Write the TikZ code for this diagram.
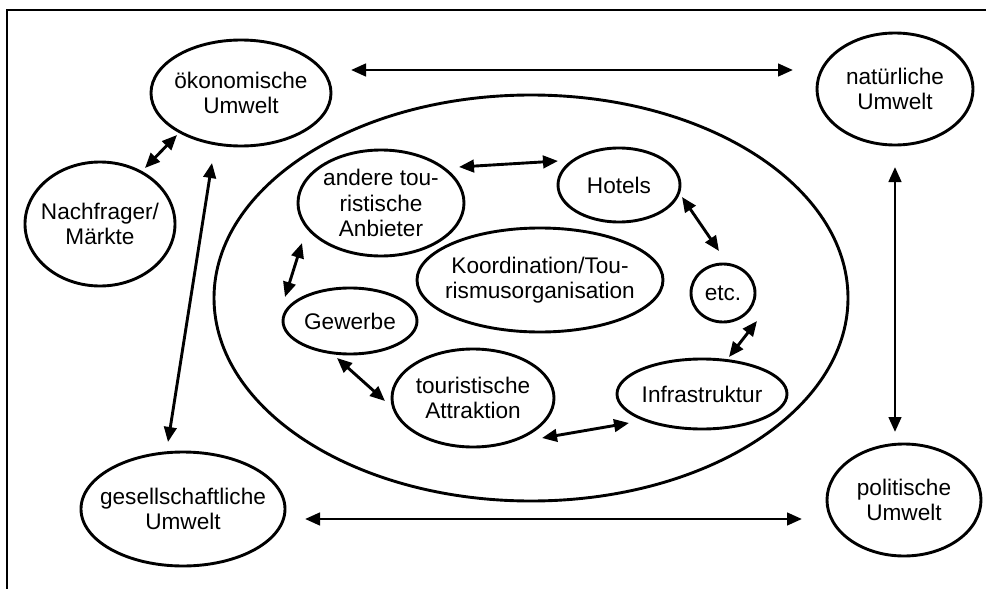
\documentclass[tikz,border=0pt]{standalone}
\usepackage{fontspec}
\setmainfont{Liberation Sans}
\usetikzlibrary{arrows.meta,shapes.geometric}
\begin{document}
\begin{tikzpicture}[x=1pt,y=-1pt,
  ell/.style={ellipse, draw, line width=2.9pt, inner sep=0pt, outer sep=0pt},
  lbl/.style={align=center, inner sep=0pt, font=\fontsize{22.6}{25.5}\selectfont},
  link/.style={line width=2.9pt,
    {Triangle[length=15pt,width=12.5pt]}-{Triangle[length=15pt,width=12.5pt]}},
  frameline/.style={line width=1.3pt}]
\useasboundingbox (0,0) rectangle (986,589);

% frame on top and left
\draw[frameline] (7,589) -- (7,10) -- (986,10);

% destination (large ellipse)
\node[ell, minimum width=634pt, minimum height=406pt] (dest) at (531,298) {};

% surrounding environments
\node[ell, minimum width=180pt, minimum height=106pt] (oek) at (241,93) {};
\node[lbl] (oek-t) at (oek) {ökonomische\\Umwelt};
\node[ell, minimum width=150pt, minimum height=124pt] (nach) at (100,224) {};
\node[lbl] (nach-t) at (nach) {Nachfrager/\\Märkte};
\node[ell, minimum width=204pt, minimum height=114pt] (ges) at (183,509) {};
\node[lbl] (ges-t) at (ges) {gesellschaftliche\\Umwelt};
\node[ell, minimum width=156pt, minimum height=112pt] (nat) at (895,89) {};
\node[lbl] (nat-t) at (nat) {natürliche\\Umwelt};
\node[ell, minimum width=154pt, minimum height=112pt] (pol) at (904,500) {};
\node[lbl] (pol-t) at (pol) {politische\\Umwelt};

% actors inside the destination
\node[ell, minimum width=166pt, minimum height=106pt] (and) at (381,203) {};
\node[lbl] (and-t) at (and) {andere tou-\\ristische\\Anbieter};
\node[ell, minimum width=122pt, minimum height=74pt] (hot) at (619,185) {};
\node[lbl] (hot-t) at (hot) {Hotels};
\node[ell, minimum width=246pt, minimum height=104pt] (koo) at (540,280) {};
\node[lbl] (koo-t) at (koo) {Koordination/Tou-\\rismusorganisation};
\node[ell, minimum width=64pt, minimum height=58pt] (etc) at (723,293) {};
\node[lbl] (etc-t) at (etc) {etc.};
\node[ell, minimum width=134pt, minimum height=66pt] (gew) at (350,321) {};
\node[lbl] (gew-t) at (gew) {Gewerbe};
\node[ell, minimum width=162pt, minimum height=98pt] (att) at (473,398) {};
\node[lbl] (att-t) at (att) {touristische\\Attraktion};
\node[ell, minimum width=170pt, minimum height=70pt] (inf) at (702,394) {};
\node[lbl] (inf-t) at (inf) {Infrastruktur};

% links between the environments
\draw[link] ([shift={(110,-23)}]oek.center) -- ([shift={(-102,-19)}]nat.center);
\draw[link] ([shift={(122,10)}]ges.center) -- ([shift={(-102,19)}]pol.center);
\draw[link] ([shift={(0,78)}]nat.center) -- ([shift={(-9,-68)}]pol.center);
\draw[link] ([shift={(-29,70)}]oek.center) -- ([shift={(-15,-67)}]ges.center);
\draw[link] ([shift={(-64,42)}]oek.center) -- ([shift={(45,-56)}]nach.center);

% links between the actors
\draw[link] ([shift={(78,-36)}]and.center) -- ([shift={(-61,-24)}]hot.center);
\draw[link] ([shift={(63,12)}]hot.center) -- ([shift={(-4,-42)}]etc.center);
\draw[link] ([shift={(34,28)}]etc.center) -- ([shift={(27,-37)}]inf.center);
\draw[link] ([shift={(-73,29)}]inf.center) -- ([shift={(69,40)}]att.center);
\draw[link] ([shift={(-13,37)}]gew.center) -- ([shift={(-88,3)}]att.center);
\draw[link] ([shift={(-79,40)}]and.center) -- ([shift={(-65,-24)}]gew.center);
\end{tikzpicture}
\end{document}
